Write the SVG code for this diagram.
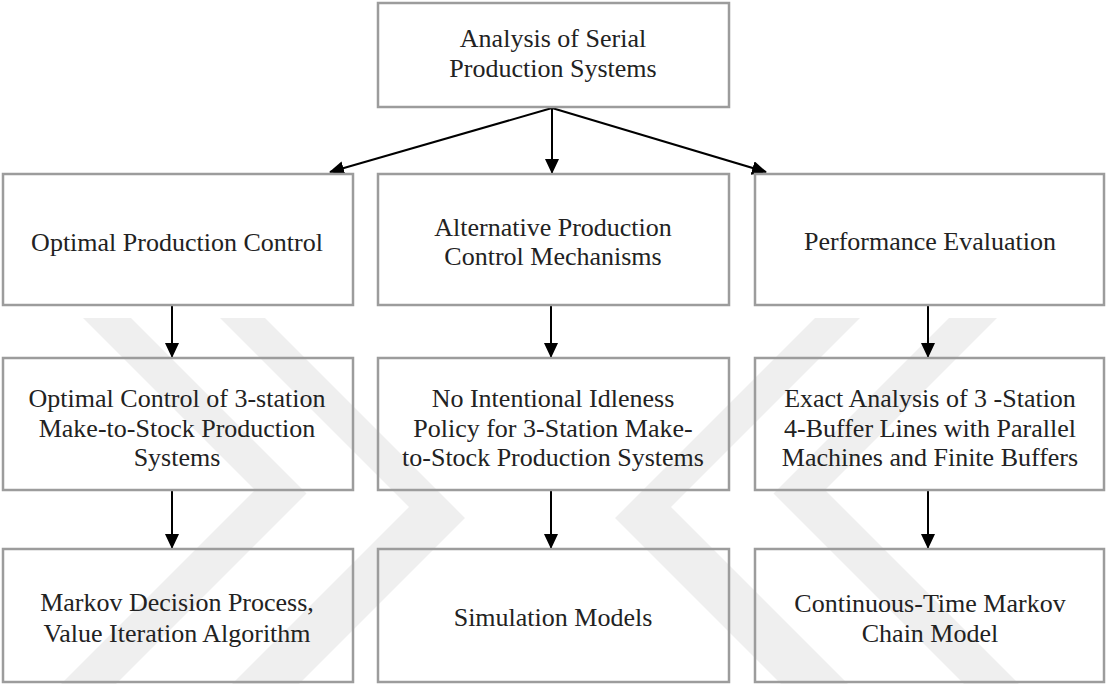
<svg xmlns="http://www.w3.org/2000/svg" width="1106" height="684" viewBox="0 0 1106 684">
  <defs>
    <marker id="arr" viewBox="0 0 15 14" refX="14" refY="7" markerWidth="15" markerHeight="14" markerUnits="userSpaceOnUse" orient="auto">
      <path d="M0,0 L15,7 L0,14 Z" fill="#000"/>
    </marker>
    <clipPath id="wmclip"><rect x="0" y="318" width="1106" height="366"/></clipPath>
  </defs>
  <style>
    .box { fill: none; stroke: #9c9c9c; stroke-width: 2.5; }
    .t { font-family: "Liberation Serif", "Times New Roman", serif; font-size: 26px; fill: #222; text-anchor: middle; }
    .conn { stroke: #000; stroke-width: 2; fill: none; marker-end: url(#arr); }
    .wm { fill: #efefef; }
  </style>
  <rect width="1106" height="684" fill="#fff"/>
  <g id="watermark" clip-path="url(#wmclip)">
    <polygon class="wm" points="83,318 131,318 306.5,493.5 116,684 61,684 255,490"/>
    <polygon class="wm" points="220,318 265,318 465,518 299,684 232,684 409,507"/>
    <polygon class="wm" points="860,318 815,318 615,518 781,684 848,684 671,507"/>
    <polygon class="wm" points="997,318 949,318 773.5,493.5 964,684 1019,684 825,490"/>
  </g>
  <g id="connectors">
    <line class="conn" x1="552" y1="108" x2="330" y2="172"/>
    <line class="conn" x1="552" y1="108" x2="552" y2="173"/>
    <line class="conn" x1="552" y1="108" x2="766" y2="172"/>
    <line class="conn" x1="172" y1="306" x2="172" y2="357"/>
    <line class="conn" x1="551" y1="306" x2="551" y2="357"/>
    <line class="conn" x1="928" y1="306" x2="928" y2="357"/>
    <line class="conn" x1="172" y1="491" x2="172" y2="548"/>
    <line class="conn" x1="551" y1="491" x2="551" y2="548"/>
    <line class="conn" x1="928" y1="491" x2="928" y2="548"/>
  </g>
  <g id="n-root">
    <rect class="box" x="378" y="3" width="351" height="104"/>
    <text class="t" x="553" y="47">Analysis of Serial</text>
    <text class="t" x="553" y="77">Production Systems</text>
  </g>
  <g id="n-opc">
    <rect class="box" x="3" y="174" width="350" height="131"/>
    <text class="t" x="177" y="251">Optimal Production Control</text>
  </g>
  <g id="n-apcm">
    <rect class="box" x="378" y="174" width="351" height="131"/>
    <text class="t" x="553" y="236">Alternative Production</text>
    <text class="t" x="553" y="265">Control Mechanisms</text>
  </g>
  <g id="n-pe">
    <rect class="box" x="755" y="174" width="349" height="131"/>
    <text class="t" x="930" y="250">Performance Evaluation</text>
  </g>
  <g id="n-oc3">
    <rect class="box" x="3" y="358" width="350" height="132"/>
    <text class="t" x="177" y="407">Optimal Control of 3-station</text>
    <text class="t" x="177" y="437">Make-to-Stock Production</text>
    <text class="t" x="177" y="466">Systems</text>
  </g>
  <g id="n-nii">
    <rect class="box" x="378" y="358" width="351" height="132"/>
    <text class="t" x="553" y="407">No Intentional Idleness</text>
    <text class="t" x="553" y="437">Policy for 3-Station Make-</text>
    <text class="t" x="553" y="466">to-Stock Production Systems</text>
  </g>
  <g id="n-ea">
    <rect class="box" x="755" y="358" width="349" height="132"/>
    <text class="t" x="930" y="407">Exact Analysis of 3 -Station</text>
    <text class="t" x="930" y="437">4-Buffer Lines with Parallel</text>
    <text class="t" x="930" y="466">Machines and Finite Buffers</text>
  </g>
  <g id="n-mdp">
    <rect class="box" x="3" y="549" width="350" height="133"/>
    <text class="t" x="177" y="611">Markov Decision Process,</text>
    <text class="t" x="177" y="642">Value Iteration Algorithm</text>
  </g>
  <g id="n-sim">
    <rect class="box" x="378" y="549" width="351" height="133"/>
    <text class="t" x="553" y="626">Simulation Models</text>
  </g>
  <g id="n-ctmc">
    <rect class="box" x="755" y="549" width="349" height="133"/>
    <text class="t" x="930" y="612">Continuous-Time Markov</text>
    <text class="t" x="930" y="642">Chain Model</text>
  </g>
</svg>
